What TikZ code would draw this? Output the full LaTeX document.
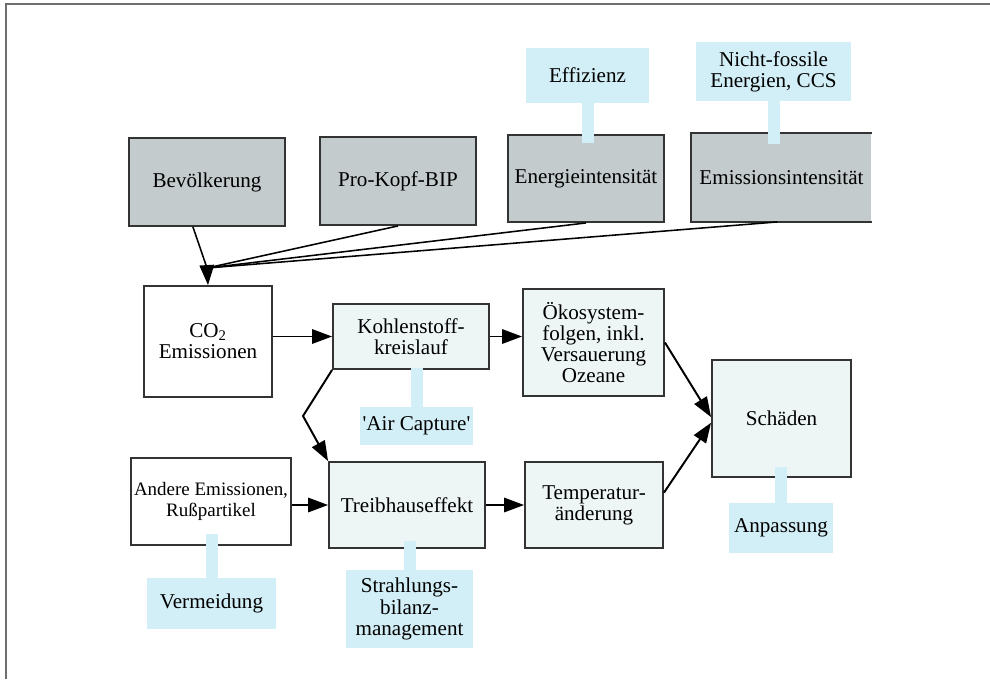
\documentclass[tikz,border=0pt]{standalone}
\usepackage{fontspec}
\setmainfont{Liberation Serif}
\usetikzlibrary{arrows.meta, positioning}
\definecolor{BoxLine}{HTML}{333333}
\definecolor{DriverFill}{HTML}{C4CBCD}
\definecolor{ChainFill}{HTML}{EDF5F5}
\definecolor{TagFill}{HTML}{D2EEF6}
\definecolor{FrameColor}{HTML}{6E6E6E}

\begin{document}
\begin{tikzpicture}[
    x=0.025cm, y=-0.025cm,
    box/.style={rectangle, draw=BoxLine, line width=1.3pt, fill=white, align=center, inner sep=2pt, font=\fontsize{15}{15}\selectfont, text=black},
    driver/.style={box, fill=DriverFill, minimum width=3.9cm, minimum height=2.2cm},
    chain/.style={box, fill=ChainFill},
    tag/.style={rectangle, fill=TagFill, align=center, inner sep=2pt, font=\fontsize{15}{15}\selectfont},
    stem/.style={TagFill, line width=0.3cm},
    arr/.style={-{Triangle[length=0.5cm, width=0.36cm]}, line width=1.4pt, black},
    feed/.style={line width=1.1pt, black}
  ]
    \useasboundingbox (0,0) rectangle (990,679);
    \draw[FrameColor, line width=1.4pt] (6,679) -- (6,4) -- (990,4);

    \node[driver] (bev) at (207,182) {Bevölkerung};
    \node[driver] (bip) at (398,181) {Pro-Kopf-BIP};
    \node[driver, minimum height=2.175cm] (ene) at (586,178.5) {Energieintensität};
    \node[driver, draw=none, minimum width=4.475cm, minimum height=2.175cm] (emi) at (781.5,177.5) {Emissionsintensität};
    \draw[BoxLine, line width=1.3pt] (emi.north east) -- (emi.north west) -- (emi.south west) -- (emi.south east);

    \node[tag, minimum width=3.075cm, minimum height=1.375cm] (eff) at (587.5,75.5) {Effizienz};
    \node[tag, minimum width=3.875cm, minimum height=1.475cm] (nfe) at (773.5,71.5) {Nicht-fossile\\Energien, CCS};

    \node[box, minimum width=3.2cm, minimum height=2.775cm] (co2) at (208,341.5) {CO\textsubscript{2}\\Emissionen};
    \node[chain, minimum width=3.9cm, minimum height=1.625cm] (kohl) at (411,336.5) {Kohlenstoff-\\kreislauf};
    \node[chain, minimum width=3.525cm, minimum height=2.675cm] (oeko) at (593.5,342.5) {Ökosystem-\\folgen, inkl.\\Versauerung\\Ozeane};
    \node[chain, minimum width=3.475cm, minimum height=2.925cm] (sch) at (781.5,418.5) {Schäden};
    \node[tag, minimum width=2.825cm, minimum height=0.95cm] (air) at (416.5,426) {\textquotesingle Air Capture\textquotesingle};

    \node[box, minimum width=3.9cm, minimum height=2.175cm, font=\fontsize{13.5}{15}\selectfont] (and) at (211,501.5) {Andere Emissionen,\\Rußpartikel};
    \node[chain, minimum width=3.9cm, minimum height=2.15cm] (treib) at (407,505) {Treibhauseffekt};
    \node[chain, minimum width=3.45cm, minimum height=2.15cm] (temp) at (594,505) {Temperatur-\\änderung};
    \node[tag, minimum width=3.225cm, minimum height=1.275cm] (verm) at (211.5,603.5) {Vermeidung};
    \node[tag, minimum width=3.175cm, minimum height=1.95cm] (srm) at (409.5,609) {Strahlungs-\\bilanz-\\management};
    \node[tag, minimum width=2.6cm, minimum height=1.25cm] (anp) at (781,528) {Anpassung};

    \draw[stem, shorten >=-0.22cm] (eff.south) -- (eff.south |- ene.north);
    \draw[stem, shorten >=-0.28cm] (nfe.south) -- (nfe.south |- emi.north);
    \draw[stem, shorten >=-0.05cm] (air.north) -- (air.north |- kohl.south);
    \draw[stem, shorten >=-0.3cm] (verm.north) -- (verm.north |- and.south);
    \draw[stem, shorten >=-0.2cm] (srm.north) -- (srm.north |- treib.south);
    \draw[stem, shorten >=-0.28cm] (anp.north) -- (anp.north |- sch.south);

    \coordinate (merge) at (207,268);
    \coordinate (knick) at (303,416);
    \draw[feed] ([xshift=-10pt]bev.south) -- (merge);
    \draw[feed] (bip.south) -- (merge);
    \draw[feed] (ene.south) -- (merge);
    \draw[feed] ([xshift=-3pt]emi.south) -- (merge);
    \draw[arr] (merge) -- (co2.north);

    \draw[arr] (co2.east |- kohl.west) -- (kohl.west);
    \draw[arr] (kohl.east) -- (kohl.east -| oeko.west);
    \draw[arr] (kohl.south west) -- (knick) -- (treib.north west);
    \draw[arr] (and.east |- treib.west) -- (treib.west);
    \draw[arr] (treib) -- (temp);
    \draw[arr] (oeko.east) -- ([yshift=1pt]sch.west);
    \draw[arr] (temp.10) -- ([yshift=-3pt]sch.west);
\end{tikzpicture}
\end{document}
